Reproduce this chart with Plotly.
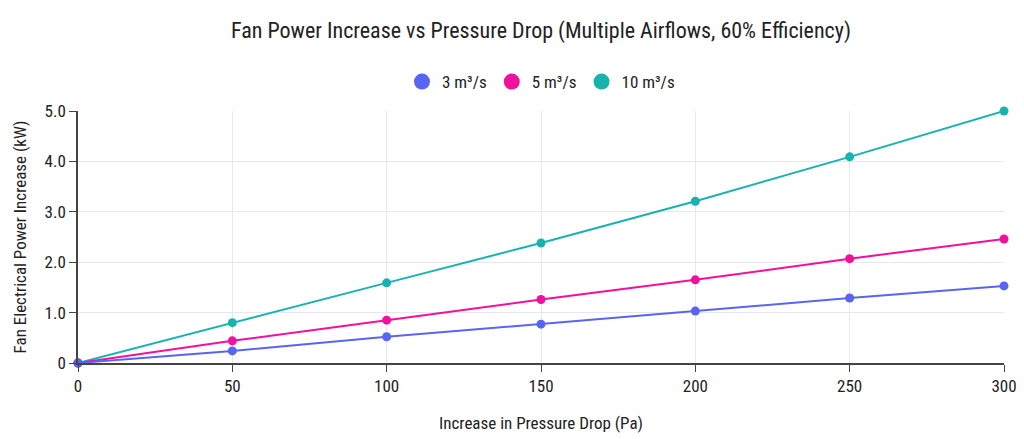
import plotly.graph_objects as go

pressure_drop = [0, 50, 100, 150, 200, 250, 300]
power_3 = [0, 0.24, 0.52, 0.77, 1.03, 1.29, 1.53]
power_5 = [0, 0.44, 0.85, 1.26, 1.65, 2.07, 2.46]
power_10 = [0, 0.80, 1.59, 2.38, 3.21, 4.09, 5.0]
series_names = ["3 m³/s", "5 m³/s", "10 m³/s"]
colors = ["#5865F2", "#F0119D", "#19B3AE"]
y_tickvals = [0, 1, 2, 3, 4, 5]
y_ticktext = ["0", "1.0", "2.0", "3.0", "4.0", "5.0"]

FONT = "Liberation Sans Narrow, Roboto Condensed, Roboto, sans-serif"

fig = go.Figure()
# draw in reverse so blue on top at origin
for name, vals, col in reversed(list(zip(series_names, [power_3, power_5, power_10], colors))):
    fig.add_trace(go.Scatter(
        x=pressure_drop, y=vals, mode="lines+markers", name=name,
        line=dict(color=col, width=2), marker=dict(color=col, size=9),
        showlegend=False, cliponaxis=False,
    ))
for name, col in zip(series_names, colors):
    fig.add_trace(go.Scatter(
        x=[None], y=[None], mode="markers", name=name,
        marker=dict(color=col, size=20), showlegend=True,
    ))

fig.update_layout(
    width=1024, height=439,
    margin=dict(l=78, r=20, t=111, b=76),
    paper_bgcolor="white", plot_bgcolor="white",
    font=dict(family=FONT, size=17, color="#222"),
    title=dict(text="Fan Power Increase vs Pressure Drop (Multiple Airflows, 60% Efficiency)",
               xref="paper", x=0.5, xanchor="center", y=0.93, yanchor="middle",
               font=dict(size=22, color="#222", family=FONT)),
    legend=dict(orientation="h", x=0.5, xanchor="center", y=1.115, yanchor="middle",
                font=dict(size=17), itemsizing="trace", traceorder="normal",
                itemwidth=30),
    showlegend=True,
)
fig.update_xaxes(
    range=[0, 300], tickvals=pressure_drop, showline=True, linecolor="#444", linewidth=1.5,
    ticks="outside", ticklen=7, tickcolor="#444", showgrid=True, gridcolor="#E6E8F0",
    zeroline=False, tickfont=dict(size=17), automargin=False,
    title=dict(text="Increase in Pressure Drop (Pa)", font=dict(size=17), standoff=22),
)
fig.update_yaxes(
    range=[0, 5], tickvals=y_tickvals, ticktext=y_ticktext, showline=True, linecolor="#444",
    linewidth=1.5, ticks="outside", ticklen=7, tickcolor="#444", showgrid=True,
    gridcolor="#E6E8F0", zeroline=False, tickfont=dict(size=17), automargin=False,
    title=dict(text="Fan Electrical Power Increase (kW)", font=dict(size=17), standoff=14),
)
fig.write_html("out.html")
